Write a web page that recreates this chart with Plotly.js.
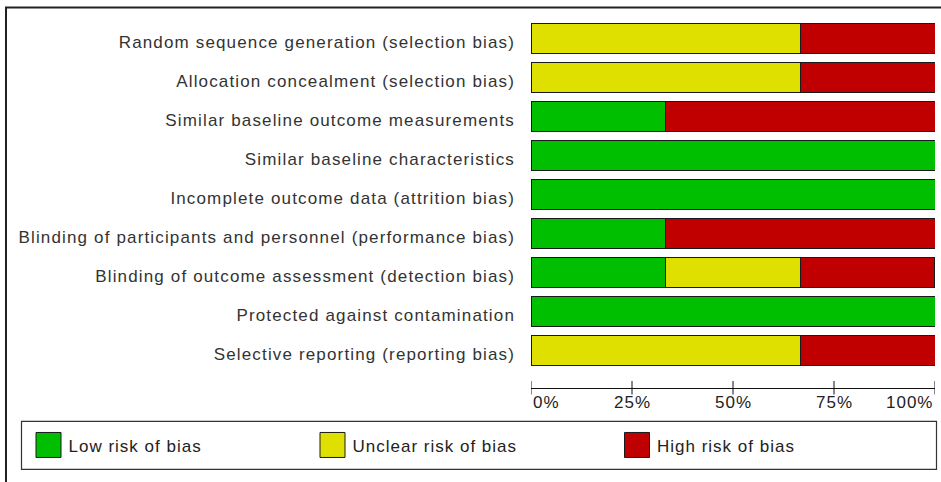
<!DOCTYPE html>
<html>
<head>
<meta charset="utf-8">
<script src="https://cdn.plot.ly/plotly-3.0.1.min.js"></script>
<style>
  html, body { margin: 0; padding: 0; background: #fff; }
  #chart { width: 941px; height: 482px; }
  .ytick text { letter-spacing: 1.15px; }
  .annotation-text, .legendtext { letter-spacing: 1px; }
</style>
</head>
<body>
<div id="chart"></div>
<script>
// ---- data ----
const domains = [
  "Random sequence generation (selection bias)",
  "Allocation concealment (selection bias)",
  "Similar baseline outcome measurements",
  "Similar baseline characteristics",
  "Incomplete outcome data (attrition bias)",
  "Blinding of participants and personnel (performance bias)",
  "Blinding of outcome assessment (detection bias)",
  "Protected against contamination",
  "Selective reporting (reporting bias)"
];
const lowRisk     = [0,     0,     33.33, 100, 100, 33.33, 33.33, 100, 0];
const unclearRisk = [66.67, 66.67, 0,     0,   0,   0,     33.33, 0,   66.67];
const highRisk    = [33.33, 33.33, 66.67, 0,   0,   66.67, 33.33, 0,   33.33];
const seriesNames = ["Low risk of bias", "Unclear risk of bias", "High risk of bias"];
const tickValues = [0, 25, 50, 75, 100];
const tickLabels = ["0%", "25%", "50%", "75%", "100%"];

// ---- styling / geometry ----
const W = 941, H = 482;
const plotLeft = 531, plotRight = 935, plotTop = 18.5, plotBottom = 388;
const rowPitch = 39;
const colors = ["#00BF00", "#E0E000", "#C00000"];
const FONT = "Liberation Sans, Arial, sans-serif";

const px2x = p => (p - plotLeft) / (plotRight - plotLeft);
const px2y = p => (plotBottom - p) / (plotBottom - plotTop);

const legendWidths = [239, 259.5, 200];
const traces = [lowRisk, unclearRisk, highRisk].map((vals, i) => ({
  type: "bar",
  orientation: "h",
  y: domains,
  x: vals,
  name: seriesNames[i],
  legendwidth: legendWidths[i],
  marker: { color: colors[i], line: { color: "#1a1a1a", width: 1 } },
  hoverinfo: "skip"
}));

const yMax = -0.5 + (plotBottom - plotTop) / rowPitch;

// tick marks crossing the axis line (above and below)
const tickShapes = tickValues.map(v => ({
  type: "line", xref: "x", yref: "paper",
  x0: v, x1: v, y0: px2y(381), y1: px2y(394.5),
  line: { color: "#111", width: 1 }
}));

// tick labels: first starts at its tick, last ends at its tick, others centred
const tickAnnotations = tickLabels.map((t, i) => ({
  text: t, xref: "x", yref: "paper",
  x: tickValues[i], y: px2y(403),
  xanchor: i === 0 ? "left" : (i === tickLabels.length - 1 ? "right" : "center"),
  yanchor: "middle",
  showarrow: false,
  font: { family: FONT, size: 17, color: "#222" }
}));

const layout = {
  width: W, height: H,
  margin: { l: plotLeft, r: W - plotRight, t: plotTop, b: H - plotBottom, pad: 0 },
  paper_bgcolor: "#fff",
  plot_bgcolor: "#fff",
  barmode: "stack",
  bargap: 9 / 39,
  font: { family: FONT, size: 17, color: "#333" },
  showlegend: true,
  legend: {
    orientation: "h",
    traceorder: "normal",
    x: px2x(28.5), xanchor: "left",
    y: px2y(445.5), yanchor: "middle",
    bgcolor: "rgba(0,0,0,0)",
    borderwidth: 0,
    font: { family: FONT, size: 17, color: "#222" }
  },
  xaxis: {
    range: [0, 100],
    fixedrange: true,
    showgrid: false,
    zeroline: false,
    showline: true,
    linecolor: "#111",
    linewidth: 1,
    ticks: "",
    tickvals: tickValues,
    showticklabels: false
  },
  yaxis: {
    type: "category",
    categoryorder: "array",
    categoryarray: domains,
    range: [yMax, -0.5],
    fixedrange: true,
    showgrid: false,
    zeroline: false,
    showline: false,
    ticks: "",
    ticklabelstandoff: 15,
    ticklabelshift: -4,
    tickfont: { family: FONT, size: 17, color: "#333" }
  },
  annotations: tickAnnotations,
  shapes: [
    { type: "rect", xref: "paper", yref: "paper",
      x0: px2x(6), x1: px2x(990), y0: px2y(7), y1: px2y(520),
      line: { color: "#222", width: 2 }, fillcolor: "rgba(0,0,0,0)", layer: "below" },
    { type: "rect", xref: "paper", yref: "paper",
      x0: px2x(21.5), x1: px2x(936.5), y0: px2y(421.5), y1: px2y(469.5),
      line: { color: "#333", width: 1.2 }, fillcolor: "rgba(0,0,0,0)", layer: "below" }
  ].concat(tickShapes)
};

Plotly.newPlot("chart", traces, layout, { staticPlot: true, displayModeBar: false }).then(() => {
  document.querySelectorAll(".legend .legendpoints path").forEach(p => {
    p.setAttribute("d", "M12.5,12.5H-12.5V-12.5H12.5Z");
  });
});
</script>
</body>
</html>
